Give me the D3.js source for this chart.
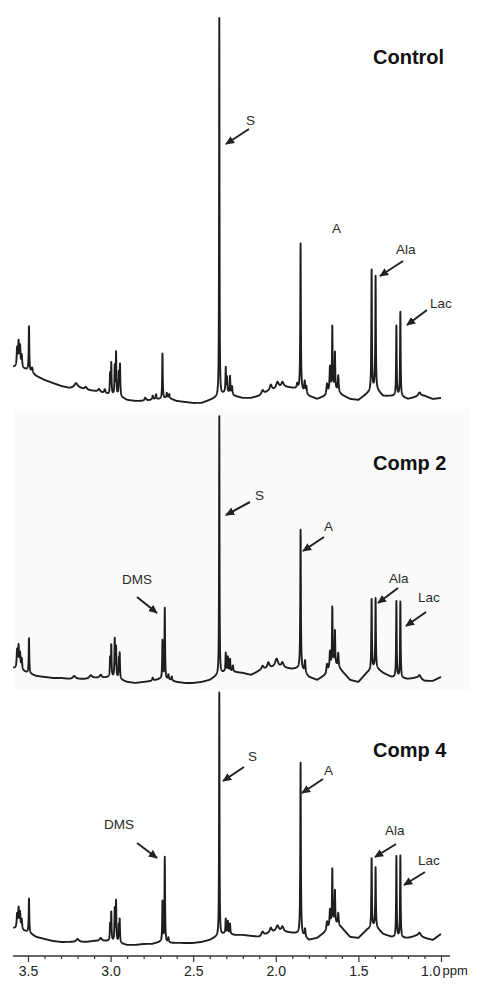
<!DOCTYPE html>
<html>
<head>
<meta charset="utf-8">
<script src="https://cdn.jsdelivr.net/npm/d3@7"></script>
<style>
  html, body { margin: 0; padding: 0; background: #ffffff; }
  svg { display: block; font-family: "Liberation Sans", Arial, sans-serif; }
</style>
</head>
<body>
<svg id="chart" width="484" height="988"></svg>
<script>
// ---------------- DATA ----------------
const panelNames = ["Control", "Comp 2", "Comp 4"];
const ppmTicks = [3.5, 3.0, 2.5, 2.0, 1.5, 1.0];
const ppmMinorTicks = [3.4, 3.3, 3.2, 3.1, 2.9, 2.8, 2.7, 2.6, 2.4, 2.3, 2.2, 2.1, 1.9, 1.8, 1.7, 1.6, 1.4, 1.3, 1.2, 1.1];

// baseline at these chemical shifts (ppm)
const baselinePpm = [3.59,3.55,3.50,3.45,3.40,3.35,3.30,3.25,3.20,3.15,3.10,3.05,3.00,2.95,2.90,2.85,2.80,2.75,2.70,2.65,2.60,2.55,2.50,2.45,2.40,2.35,2.30,2.25,2.20,2.15,2.10,2.05,2.00,1.95,1.90,1.85,1.80,1.75,1.70,1.65,1.60,1.55,1.50,1.45,1.40,1.35,1.30,1.25,1.20,1.15,1.10,1.05,1.00];
const baselineControl = [38,37,35,29,25,22,19,17,18,15,14,12,10,9,5,4,4,5,6,7,4,3,2,2,5,8,13,9,7,7,9,13,15,18,17,15,9,6,9,17,10,6,5,11,17,9,9,9,6,8,9,6,7];
const baselineComp2   = [17,15,12,9,8,7,7,6,6,6,7,7,8,6,3,2,3,4,6,5,3,2,2,3,5,10,14,13,12,10,14,16,18,17,16,17,8,5,10,22,14,5,3,12,18,12,8,7,6,7,4,4,8];
const baselineComp4   = [18,16,14,9,7,5,4,4,4,4,5,5,5,3,1,1,2,2,4,3,3,3,3,4,6,10,13,11,11,10,9,12,14,14,13,12,6,8,14,24,18,9,8,16,20,12,9,8,8,10,8,6,12];

// peaks: [shift (ppm), height above baseline, half width (ppm)]
const peaksControl = [
  [3.566,18,0.003],[3.557,24,0.003],[3.548,20,0.003],[3.538,12,0.003],[3.494,44,0.002],[3.475,5,0.004],
  [3.21,4,0.01],[3.15,3,0.008],[3.07,3,0.008],[3.035,4,0.005],
  [3.003,20,0.002],[2.996,31,0.002],[2.975,28,0.002],[2.967,42,0.002],[2.950,22,0.002],[2.943,31,0.002],
  [2.79,3,0.006],[2.745,4,0.004],[2.725,5,0.003],
  [2.686,45,0.002],[2.66,5,0.003],[2.645,4,0.003],
  [2.342,378,0.0015],[2.303,24,0.002],[2.295,14,0.002],[2.277,17,0.002],[2.265,8,0.003],
  [2.08,4,0.008],[2.03,6,0.008],[1.99,7,0.01],[1.96,5,0.008],
  [1.87,5,0.004],[1.85,146,0.002],[1.825,11,0.003],[1.815,7,0.003],
  [1.69,10,0.004],[1.672,24,0.003],[1.658,62,0.002],[1.642,36,0.002],[1.622,16,0.003],
  [1.42,120,0.002],[1.396,112,0.002],
  [1.27,70,0.002],[1.246,84,0.002],
  [1.13,4,0.01]
];
const peaksComp2 = [
  [3.566,18,0.003],[3.557,22,0.003],[3.548,15,0.003],[3.538,11,0.003],[3.494,35,0.002],
  [3.22,3,0.01],[3.12,3,0.01],[3.06,3,0.008],
  [3.003,18,0.002],[2.996,31,0.002],[2.975,38,0.002],[2.967,30,0.002],[2.950,18,0.002],[2.945,24,0.002],
  [2.745,3,0.004],
  [2.686,38,0.002],[2.672,71,0.002],[2.65,5,0.003],[2.63,4,0.003],
  [2.342,258,0.0015],[2.303,18,0.002],[2.29,14,0.002],[2.277,12,0.002],[2.26,6,0.003],
  [2.08,4,0.008],[2.045,6,0.008],[1.995,8,0.01],[1.96,5,0.008],
  [1.85,138,0.002],[1.823,12,0.003],
  [1.69,8,0.004],[1.672,16,0.003],[1.658,57,0.002],[1.642,33,0.002],[1.622,14,0.003],
  [1.42,70,0.002],[1.396,69,0.002],
  [1.27,76,0.002],[1.246,76,0.002],
  [1.13,4,0.01]
];
const peaksComp4 = [
  [3.566,14,0.003],[3.557,20,0.003],[3.548,16,0.003],[3.538,10,0.003],[3.494,34,0.002],
  [3.2,3,0.01],[3.06,3,0.008],
  [3.003,16,0.002],[2.996,28,0.002],[2.975,32,0.002],[2.967,40,0.002],[2.950,16,0.002],[2.945,22,0.002],
  [2.686,40,0.002],[2.672,85,0.002],[2.65,5,0.003],
  [2.342,243,0.0015],[2.303,14,0.002],[2.29,12,0.002],[2.277,10,0.002],
  [2.08,4,0.008],[2.03,5,0.008],[1.99,6,0.01],[1.96,5,0.008],
  [1.85,171,0.002],[1.823,8,0.003],
  [1.69,8,0.004],[1.672,16,0.003],[1.658,54,0.002],[1.642,32,0.002],[1.622,12,0.003],
  [1.42,69,0.002],[1.396,59,0.002],
  [1.27,81,0.002],[1.246,82,0.002],
  [1.13,4,0.01]
];

// peak annotation labels per panel
const labelsControl = ["S", "A", "Ala", "Lac"];
const labelsComp2 = ["DMS", "S", "A", "Ala", "Lac"];
const labelsComp4 = ["DMS", "S", "A", "Ala", "Lac"];

// ---------------- LAYOUT ----------------
const svg = d3.select("#chart");
const x = d3.scaleLinear().domain([3.5, 1.0]).range([28, 441]);
const ppmStart = 3.59, ppmEnd = 1.0;

const panelLayout = [
  { floor: 405, title: [373, 64], baseline: baselineControl, peaks: peaksControl, labels: labelsControl,
    ann: {
      "S":   { t: [246, 125], a: [249, 129, 226, 144] },
      "A":   { t: [332, 233], a: null },
      "Ala": { t: [396, 254], a: [403, 261, 380, 276] },
      "Lac": { t: [430, 308], a: [427, 310, 407, 325] }
    } },
  { floor: 685, title: [373, 470], baseline: baselineComp2, peaks: peaksComp2, labels: labelsComp2,
    ann: {
      "DMS": { t: [122, 584], a: [137, 597, 157, 613] },
      "S":   { t: [255, 500], a: [250, 502, 226, 515] },
      "A":   { t: [324, 531], a: [324, 537, 303, 551] },
      "Ala": { t: [389, 583], a: [398, 588, 378, 603] },
      "Lac": { t: [418, 602], a: [426, 612, 406, 626] }
    } },
  { floor: 946, title: [373, 757], baseline: baselineComp4, peaks: peaksComp4, labels: labelsComp4,
    ann: {
      "DMS": { t: [104, 829], a: [137, 843, 157, 858] },
      "S":   { t: [248, 761], a: [244, 767, 223, 781] },
      "A":   { t: [324, 775], a: [323, 779, 302, 793] },
      "Ala": { t: [385, 835], a: [396, 844, 375, 857] },
      "Lac": { t: [418, 865], a: [425, 872, 404, 885] }
    } }
];

// faint scanned background of the middle panel
svg.append("rect").attr("x", 15).attr("y", 409).attr("width", 455).attr("height", 281)
  .attr("fill", "#fafafa");

// arrow marker
svg.append("defs").append("marker")
  .attr("id", "arrow").attr("viewBox", "0 -5 10 10")
  .attr("refX", 9).attr("refY", 0)
  .attr("markerUnits", "userSpaceOnUse")
  .attr("markerWidth", 9).attr("markerHeight", 9)
  .attr("orient", "auto")
  .append("path").attr("d", "M0,-4.5L10,0L0,4.5Z").attr("fill", "#222");

// sample grid (ppm) including exact peak centres
function sampleGrid(peaks) {
  const g = [];
  for (let i = 0; ; i++) {
    const p = ppmStart - i * 0.0005;
    if (p < ppmEnd) break;
    g.push(p);
  }
  peaks.forEach(pk => g.push(pk[0]));
  return g.sort((a, b) => b - a);
}

panelLayout.forEach((P, idx) => {
  const y = d3.scaleLinear().domain([0, 400]).range([P.floor, P.floor - 400]);
  const base = d3.scaleLinear().domain(baselinePpm).range(P.baseline);
  const intensity = p => {
    let v = base(p);
    for (const [c, h, w] of P.peaks) {
      const d = (p - c) / w;
      v += h / (1 + d * d);
    }
    return v;
  };
  const pts = sampleGrid(P.peaks).map(p => [p, intensity(p)]);
  const line = d3.line().x(d => x(d[0])).y(d => y(d[1]));
  svg.append("path").datum(pts)
    .attr("d", line)
    .attr("fill", "none")
    .attr("stroke", "#1e1e1e")
    .attr("stroke-width", 1.9)
    .attr("stroke-linejoin", "round");

  // title
  svg.append("text").attr("x", P.title[0]).attr("y", P.title[1])
    .attr("font-size", 20).attr("font-weight", "bold").attr("fill", "#111")
    .text(panelNames[idx]);

  // annotations
  P.labels.forEach(lbl => {
    const a = P.ann[lbl];
    svg.append("text").attr("x", a.t[0]).attr("y", a.t[1])
      .attr("font-size", 13.5).attr("fill", "#2a2a2a").text(lbl);
    if (a.a) {
      svg.append("line")
        .attr("x1", a.a[0]).attr("y1", a.a[1]).attr("x2", a.a[2]).attr("y2", a.a[3])
        .attr("stroke", "#222").attr("stroke-width", 2)
        .attr("marker-end", "url(#arrow)");
    }
  });
});

// ---------------- AXIS ----------------
const axisY = 956;
const gAxis = svg.append("g").attr("transform", `translate(0,${axisY})`);
gAxis.append("line").attr("x1", x(3.59)).attr("x2", x(0.945)).attr("y1", 0).attr("y2", 0)
  .attr("stroke", "#333").attr("stroke-width", 1.5);

const minorAxis = d3.axisBottom(x).tickValues(ppmMinorTicks).tickSize(3).tickFormat("");
const gMinor = gAxis.append("g").call(minorAxis);
gMinor.select(".domain").remove();
gMinor.selectAll(".tick line").attr("stroke", "#333").attr("stroke-width", 1.2);

const majorAxis = d3.axisBottom(x).tickValues(ppmTicks).tickSize(6).tickPadding(4)
  .tickFormat(d3.format(".1f"));
const gMajor = gAxis.append("g").call(majorAxis);
gMajor.select(".domain").remove();
gMajor.selectAll(".tick line").attr("stroke", "#333").attr("stroke-width", 1.2);
gMajor.selectAll(".tick text")
  .attr("font-size", 14).attr("fill", "#222")
  .attr("font-family", "'Liberation Sans', Arial, sans-serif");

// last label carries the unit
const lastTick = gMajor.selectAll(".tick").filter(d => d === 1.0);
lastTick.select("text").attr("text-anchor", "end").attr("x", -1);
lastTick.append("text")
  .attr("x", 1).attr("y", 10).attr("dy", "0.71em")
  .attr("text-anchor", "start").attr("font-size", 13).attr("fill", "#222")
  .attr("font-family", "'Liberation Sans', Arial, sans-serif")
  .text("ppm");
</script>
</body>
</html>
